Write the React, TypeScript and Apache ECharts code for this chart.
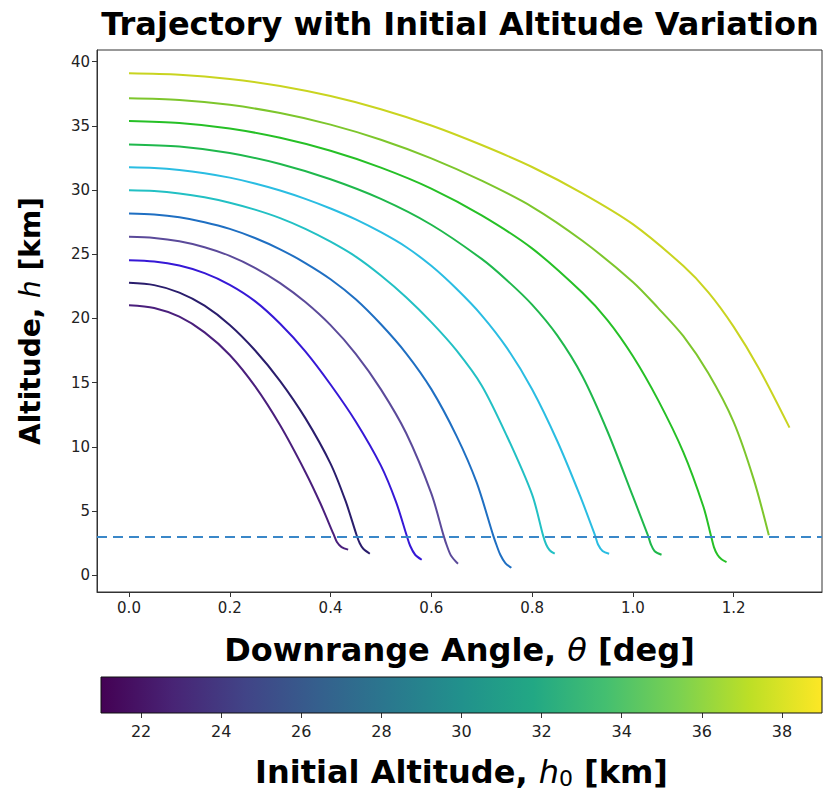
import React, { useEffect, useRef } from "react";
import * as echarts from "echarts";

// ---- data ----
const initialAltitudes = [21.0, 22.8, 24.6, 26.4, 28.2, 30.0, 31.8, 33.6, 35.4, 37.2, 39.0];

// [downrange angle θ (deg), altitude h (km)]
const curve210 = [[0, 21.04], [0.05, 20.82], [0.1, 20.14], [0.15, 18.92], [0.2, 17.16], [0.25, 14.73], [0.3, 11.68], [0.35, 8.05], [0.38, 5.59], [0.406, 3.2], [0.413, 2.57], [0.422, 2.2], [0.435, 2.0]];
const curve228 = [[0, 22.78], [0.05, 22.6], [0.1, 22.02], [0.15, 21.0], [0.2, 19.5], [0.25, 17.53], [0.3, 15.13], [0.35, 12.24], [0.4, 8.7], [0.43, 5.77], [0.452, 3.1], [0.458, 2.5], [0.465, 2.07], [0.478, 1.68]];
const curve246 = [[0, 24.54], [0.05, 24.44], [0.1, 24.12], [0.15, 23.53], [0.2, 22.62], [0.25, 21.35], [0.3, 19.59], [0.35, 17.44], [0.4, 14.86], [0.45, 11.98], [0.5, 8.54], [0.53, 5.72], [0.551, 3.12], [0.558, 2.3], [0.568, 1.6], [0.581, 1.21]];
const curve264 = [[0, 26.36], [0.05, 26.27], [0.1, 26.01], [0.15, 25.55], [0.2, 24.88], [0.25, 23.95], [0.3, 22.76], [0.35, 21.28], [0.4, 19.48], [0.45, 17.25], [0.5, 14.48], [0.55, 11.08], [0.6, 6.38], [0.624, 3.15], [0.631, 2.3], [0.639, 1.55], [0.653, 0.9]];
const curve282 = [[0, 28.18], [0.05, 28.1], [0.1, 27.88], [0.15, 27.5], [0.2, 26.98], [0.25, 26.27], [0.3, 25.39], [0.35, 24.32], [0.4, 23.06], [0.45, 21.5], [0.5, 19.55], [0.55, 17.29], [0.6, 14.5], [0.65, 10.86], [0.69, 7.23], [0.723, 3.09], [0.73, 2.3], [0.737, 1.6], [0.747, 0.95], [0.759, 0.59]];
const curve300 = [[0, 29.98], [0.05, 29.92], [0.1, 29.74], [0.15, 29.44], [0.2, 29.02], [0.25, 28.48], [0.3, 27.82], [0.35, 26.98], [0.4, 25.98], [0.45, 24.82], [0.5, 23.35], [0.55, 21.66], [0.6, 19.72], [0.65, 17.52], [0.7, 14.79], [0.75, 10.85], [0.8, 6.3], [0.822, 3.09], [0.828, 2.4], [0.835, 1.95], [0.845, 1.68]];
const curve318 = [[0, 31.77], [0.05, 31.72], [0.1, 31.57], [0.15, 31.32], [0.2, 30.97], [0.25, 30.52], [0.3, 29.97], [0.35, 29.32], [0.4, 28.57], [0.45, 27.72], [0.5, 26.72], [0.55, 25.57], [0.6, 24.1], [0.65, 22.31], [0.7, 20.25], [0.75, 17.71], [0.8, 14.49], [0.85, 10.46], [0.895, 6.22], [0.925, 3.11], [0.931, 2.4], [0.94, 1.9], [0.953, 1.68]];
const curve336 = [[0, 33.56], [0.1, 33.39], [0.2, 32.88], [0.3, 32.03], [0.4, 30.84], [0.5, 29.31], [0.6, 27.3], [0.7, 24.64], [0.75, 22.98], [0.8, 21.08], [0.85, 18.68], [0.9, 15.5], [0.95, 11.18], [1.0, 6.16], [1.03, 3.11], [1.036, 2.4], [1.043, 1.9], [1.057, 1.6]];
const curve354 = [[0, 35.38], [0.1, 35.23], [0.2, 34.8], [0.3, 34.07], [0.4, 33.06], [0.5, 31.75], [0.6, 30.12], [0.7, 28.03], [0.8, 25.46], [0.9, 22.0], [0.95, 19.86], [1.0, 17.08], [1.05, 13.66], [1.1, 9.61], [1.14, 5.36], [1.155, 3.1], [1.161, 2.2], [1.168, 1.6], [1.176, 1.25], [1.186, 1.03]];
const curve372 = [[0, 37.15], [0.1, 37.02], [0.2, 36.64], [0.3, 36.0], [0.4, 35.1], [0.5, 33.92], [0.6, 32.47], [0.7, 30.73], [0.8, 28.7], [0.9, 26.05], [1.0, 22.85], [1.05, 20.83], [1.1, 18.64], [1.15, 15.73], [1.2, 11.95], [1.24, 7.47], [1.27, 3.12]];
const curve390 = [[0, 39.1], [0.1, 38.99], [0.2, 38.66], [0.3, 38.11], [0.4, 37.32], [0.5, 36.3], [0.6, 35.03], [0.7, 33.51], [0.8, 31.8], [0.9, 29.75], [1.0, 27.35], [1.1, 24.1], [1.15, 22.04], [1.2, 19.37], [1.25, 16.13], [1.311, 11.5]];

const trajectories = [curve210, curve228, curve246, curve264, curve282, curve300, curve318, curve336, curve354, curve372, curve390];

const thetaTicks = [0, 0.2, 0.4, 0.6, 0.8, 1.0, 1.2];
const altitudeTicks = [0, 5, 10, 15, 20, 25, 30, 35, 40];
const colorbarTicks = [22, 24, 26, 28, 30, 32, 34, 36, 38];
const colorbarRange = [21, 39];
const thresholdAltitude = 3;

// ---- styles ----
const lineColors = ["#4a1f7c", "#2a1d6c", "#3618d6", "#5b4a9a", "#1f6fc2", "#22c0c4", "#2abde2", "#1fb84c", "#26c026", "#7dc62c", "#c9d420"];
const viridis = ["#440154", "#482475", "#414487", "#355f8d", "#2a788e", "#21918c", "#22a884", "#44bf70", "#7ad151", "#bddf26", "#fde725"];
const FONT = "'DejaVu Sans', sans-serif";

export default function App() {
  const ref = useRef<HTMLDivElement>(null);
  useEffect(() => {
    if (!ref.current) return;
    const chart = echarts.init(ref.current, undefined, { renderer: "svg" });
    const gradStops = viridis.map((c, i) => ({ offset: i / (viridis.length - 1), color: c }));

    const lineSeries: any[] = trajectories.map((pts, i) => ({
      type: "line",
      name: `h0 = ${initialAltitudes[i]} km`,
      xAxisIndex: 0,
      yAxisIndex: 0,
      data: pts,
      showSymbol: false,
      smooth: 0.3,
      lineStyle: { color: lineColors[i], width: 2 },
      z: 3,
      ...(i === 0
        ? {
            markLine: {
              silent: true,
              symbol: "none",
              label: { show: false },
              lineStyle: { color: "#3a87c8", width: 2, type: [10, 6] },
              data: [{ yAxis: thresholdAltitude }],
            },
          }
        : {}),
    }));

    chart.setOption({
      animation: false,
      textStyle: { fontFamily: FONT },
      title: {
        text: "Trajectory with Initial Altitude Variation",
        left: 455,
        top: 3,
        textAlign: "center",
        textStyle: { fontFamily: FONT, fontWeight: "bold", fontSize: 32, color: "#000" },
      },
      grid: [
        { left: 97, right: 3, top: 50, height: 542, show: true, borderColor: "#333", borderWidth: 1, backgroundColor: "#fff" },
        { left: 101, right: 3, top: 677, height: 36, show: false },
      ],
      xAxis: [
        {
          type: "value",
          gridIndex: 0,
          min: -0.0635,
          max: 1.3755,
          axisLine: { show: true, onZero: false, lineStyle: { color: "#333" } },
          axisTick: { show: true, customValues: thetaTicks, length: 5, lineStyle: { color: "#333" } },
          axisLabel: { customValues: thetaTicks, formatter: (v: number) => v.toFixed(1), fontSize: 15, color: "#222", margin: 8, fontFamily: FONT },
          splitLine: { show: false },
          name: "{b|Downrange Angle, }{i|θ}{b| [deg]}",
          nameLocation: "middle",
          nameGap: 42,
          nameTextStyle: {
            rich: {
              b: { fontFamily: FONT, fontWeight: "bold", fontSize: 32, color: "#000" },
              i: { fontFamily: FONT, fontStyle: "italic", fontSize: 32, color: "#000" },
            },
          },
        },
        {
          type: "value",
          gridIndex: 1,
          min: colorbarRange[0],
          max: colorbarRange[1],
          axisLine: { show: false },
          axisTick: { show: true, customValues: colorbarTicks, length: 5, lineStyle: { color: "#333" } },
          axisLabel: { customValues: colorbarTicks, fontSize: 16, color: "#222", margin: 10, fontFamily: FONT },
          splitLine: { show: false },
          name: "{b|Initial Altitude, }{i|h}{s|0}{b| [km]}",
          nameLocation: "middle",
          nameGap: 42,
          nameTextStyle: {
            rich: {
              b: { fontFamily: FONT, fontWeight: "bold", fontSize: 32, color: "#000" },
              i: { fontFamily: FONT, fontStyle: "italic", fontSize: 32, color: "#000" },
              s: { fontFamily: FONT, fontSize: 22, color: "#000", verticalAlign: "bottom", padding: [12, 0, 0, 0] },
            },
          },
        },
      ],
      yAxis: [
        {
          type: "value",
          gridIndex: 0,
          min: -1.3,
          max: 40.91,
          axisLine: { show: true, onZero: false, lineStyle: { color: "#333" } },
          axisTick: { show: true, customValues: altitudeTicks, length: 5, lineStyle: { color: "#333" } },
          axisLabel: { customValues: altitudeTicks, fontSize: 15, color: "#222", margin: 7, fontFamily: FONT },
          splitLine: { show: false },
          name: "{b|Altitude, }{i|h}{b| [km]}",
          nameLocation: "middle",
          nameGap: 53,
          nameTextStyle: {
            rich: {
              b: { fontFamily: FONT, fontWeight: "bold", fontSize: 28, color: "#000" },
              i: { fontFamily: FONT, fontStyle: "italic", fontSize: 28, color: "#000" },
            },
          },
        },
        {
          type: "value",
          gridIndex: 1,
          min: 0,
          max: 1,
          show: false,
        },
      ],
      series: [
        ...lineSeries,
        {
          type: "custom",
          name: "colorbar",
          xAxisIndex: 1,
          yAxisIndex: 1,
          silent: true,
          data: [colorbarRange],
          renderItem: (params: any, api: any) => {
            const p0 = api.coord([api.value(0), 0]);
            const p1 = api.coord([api.value(1), 1]);
            return {
              type: "rect",
              shape: { x: p0[0], y: p1[1], width: p1[0] - p0[0], height: p0[1] - p1[1] },
              style: {
                fill: new echarts.graphic.LinearGradient(0, 0, 1, 0, gradStops),
                stroke: "#111",
                lineWidth: 1,
              },
            };
          },
        },
      ],
    });
    return () => chart.dispose();
  }, []);
  return <div ref={ref} style={{ width: 825, height: 794, position: "absolute", left: 0, top: 0, background: "#fff" }} />;
}
